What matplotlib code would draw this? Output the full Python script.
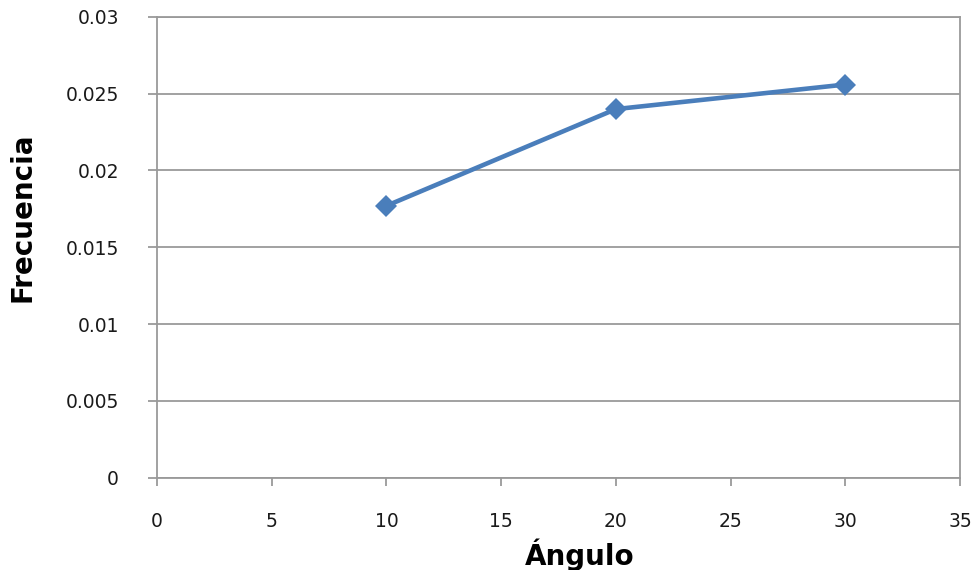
import matplotlib
matplotlib.use("Agg")
import matplotlib.pyplot as plt

# values
angulo = [10, 20, 30]
frecuencia = [0.0177, 0.0240, 0.0256]
x_ticks = [0, 5, 10, 15, 20, 25, 30, 35]
y_ticks = [0, 0.005, 0.01, 0.015, 0.02, 0.025, 0.03]
y_tick_labels = ["0", "0.005", "0.01", "0.015", "0.02", "0.025", "0.03"]

LINE_COLOR = "#4A7EBB"
GRID_COLOR = "#9a9a9a"

fig = plt.figure(figsize=(9.76, 5.70), dpi=100)
ax = fig.add_axes([157 / 976, 1 - 477.5 / 570, 803 / 976, 460.5 / 570])

ax.plot(angulo, frecuencia, color=LINE_COLOR, linewidth=3.3,
        marker="D", markersize=11, markeredgewidth=0, zorder=3,
        clip_on=False)

ax.set_xlim(0, 35)
ax.set_ylim(0, 0.03)
ax.set_xticks(x_ticks)
ax.set_xticklabels([str(v) for v in x_ticks])
ax.set_yticks(y_ticks)
ax.set_yticklabels(y_tick_labels)

ax.grid(True, axis="y", color=GRID_COLOR, linewidth=1.3)
ax.set_axisbelow(True)

for side in ["left", "bottom", "right", "top"]:
    ax.spines[side].set_color(GRID_COLOR)
    ax.spines[side].set_linewidth(1.3)

ax.tick_params(axis="x", direction="out", length=6, width=1.3,
               color=GRID_COLOR, pad=19, labelsize=13.5, labelcolor="#1a1a1a")
ax.tick_params(axis="y", direction="out", length=6.5, width=1.3,
               color=GRID_COLOR, pad=21, labelsize=13.5, labelcolor="#1a1a1a")

ax.set_xlabel("Ángulo", fontsize=20, fontweight="bold", va="center")
ax.set_ylabel("Frecuencia", fontsize=20, fontweight="bold", va="center")
ax.xaxis.set_label_coords((580 - 157) / 803, (477.5 - 555) / 460.5)
ax.yaxis.set_label_coords((23 - 157) / 803, (477.5 - 217) / 460.5)

fig.savefig("out.png", dpi=100)
